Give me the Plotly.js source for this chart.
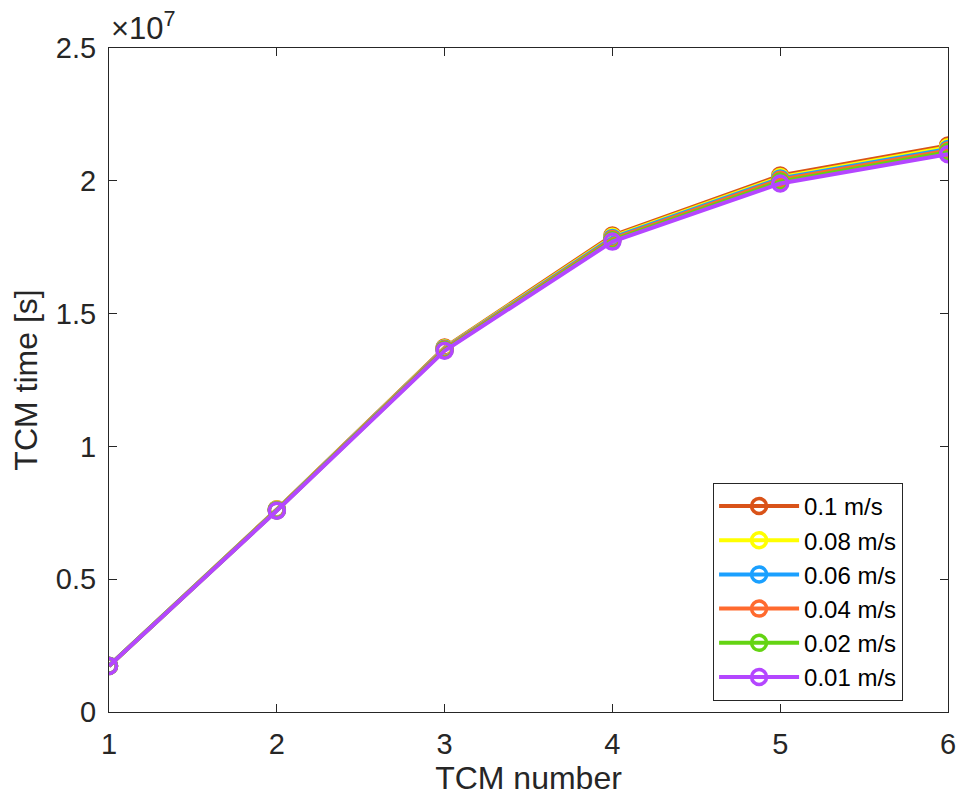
<!DOCTYPE html>
<html>
<head>
<meta charset="utf-8">
<script src="https://cdn.plot.ly/plotly-3.0.1.min.js"></script>
<style>html,body{margin:0;padding:0;background:#fff;}#chart{width:960px;height:802px;}</style>
</head>
<body>
<div id="chart"></div>
<script>
const tcmNumber = [1, 2, 3, 4, 5, 6];
const seriesNames = ["0.1 m/s", "0.08 m/s", "0.06 m/s", "0.04 m/s", "0.02 m/s", "0.01 m/s"];
const v010 = [1.74e6, 7.63e6, 1.372e7, 1.794e7, 2.020e7, 2.133e7];
const v008 = [1.74e6, 7.62e6, 1.370e7, 1.789e7, 2.014e7, 2.126e7];
const v006 = [1.74e6, 7.61e6, 1.368e7, 1.785e7, 2.009e7, 2.120e7];
const v004 = [1.73e6, 7.60e6, 1.366e7, 1.781e7, 2.004e7, 2.114e7];
const v002 = [1.73e6, 7.59e6, 1.363e7, 1.776e7, 1.997e7, 2.108e7];
const v001 = [1.73e6, 7.58e6, 1.360e7, 1.771e7, 1.990e7, 2.100e7];
const yTickVals = [0, 5e6, 1e7, 1.5e7, 2e7, 2.5e7];
const yTickText = ["0", "0.5", "1", "1.5", "2", "2.5"];
const colors = ["#D95319", "#FFFF00", "#1AA0FF", "#FF6A2E", "#64D413", "#B446FF"];

const allValues = [v010, v008, v006, v004, v002, v001];
const font = "'Liberation Sans', Arial, sans-serif";
const traces = allValues.map((vals, i) => ({
  x: tcmNumber, y: vals, name: seriesNames[i], type: "scatter", mode: "lines+markers",
  line: {color: colors[i], width: 4},
  marker: {symbol: "circle-open", size: 15, color: colors[i], line: {width: 3.5, color: colors[i]}}
}));

const axisCommon = {
  showgrid: false, zeroline: false, showline: true, mirror: "ticks",
  linecolor: "#262626", linewidth: 1, ticks: "inside", ticklen: 8, tickcolor: "#262626",
  tickfont: {family: font, size: 29, color: "#262626"}
};

const layout = {
  width: 960, height: 802,
  margin: {l: 109, r: 12, t: 48, b: 90},
  paper_bgcolor: "#fff", plot_bgcolor: "#fff",
  showlegend: true,
  legend: {x: 0.72, y: 0.345, xanchor: "left", yanchor: "top", bgcolor: "#fff",
    bordercolor: "#262626", borderwidth: 1, itemwidth: 80,
    font: {family: font, size: 24, color: "#000"}},
  xaxis: Object.assign({}, axisCommon, {range: [1, 6], tickvals: tcmNumber, ticklabelstandoff: 6,
    title: {text: "TCM number", font: {family: font, size: 32, color: "#262626"}, standoff: 0}}),
  yaxis: Object.assign({}, axisCommon, {range: [0, 2.5e7], tickvals: yTickVals, ticktext: yTickText,
    ticklabelstandoff: 6,
    title: {text: "TCM time [s]", font: {family: font, size: 32, color: "#262626"}, standoff: 8}}),
  annotations: [{xref: "paper", yref: "paper", x: 0, y: 1, xanchor: "left", yanchor: "bottom",
    xshift: 0, yshift: 0, showarrow: false, text: "×10<sup>7</sup>",
    font: {family: font, size: 31, color: "#262626"}}]
};

Plotly.newPlot("chart", traces, layout, {displayModeBar: false, staticPlot: true});
</script>
</body>
</html>
